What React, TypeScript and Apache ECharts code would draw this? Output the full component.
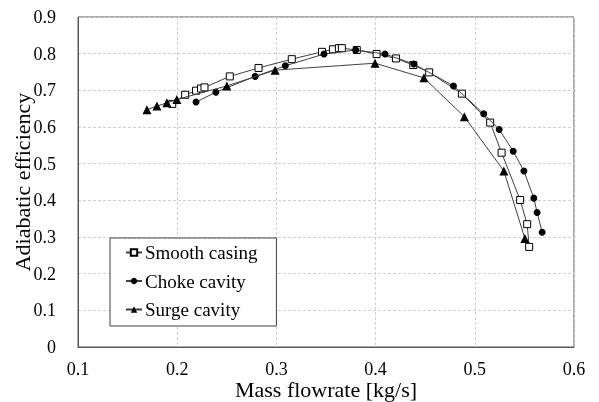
import React, { useEffect, useRef } from "react";
import * as echarts from "echarts";

const xTicks = [0.1, 0.2, 0.3, 0.4, 0.5, 0.6];
const yTicks = [0, 0.1, 0.2, 0.3, 0.4, 0.5, 0.6, 0.7, 0.8, 0.9];

const smoothX = [0.195, 0.208, 0.219, 0.224, 0.2275, 0.253, 0.282, 0.3155, 0.346, 0.357, 0.363, 0.366, 0.381, 0.401, 0.4205, 0.438, 0.454, 0.487, 0.5155, 0.527, 0.5457, 0.5528, 0.5548];
const smoothY = [0.663, 0.688, 0.699, 0.705, 0.708, 0.738, 0.761, 0.785, 0.805, 0.812, 0.815, 0.815, 0.81, 0.799, 0.787, 0.769, 0.749, 0.691, 0.612, 0.53, 0.401, 0.335, 0.273];

const chokeX = [0.219, 0.239, 0.2786, 0.309, 0.348, 0.38, 0.4095, 0.4385, 0.4785, 0.509, 0.5246, 0.5387, 0.5495, 0.5595, 0.5628, 0.5679];
const chokeY = [0.668, 0.695, 0.738, 0.767, 0.799, 0.81, 0.799, 0.772, 0.712, 0.636, 0.593, 0.534, 0.48, 0.406, 0.367, 0.313];

const surgeX = [0.1695, 0.1796, 0.1896, 0.1997, 0.25, 0.2987, 0.3994, 0.4487, 0.4895, 0.5293, 0.5505];
const surgeY = [0.647, 0.657, 0.666, 0.675, 0.712, 0.755, 0.774, 0.734, 0.628, 0.48, 0.296];

const seriesNames = ["Smooth casing", "Choke cavity", "Surge cavity"];

const zip = (xs: number[], ys: number[]) => xs.map((x, i) => [x, ys[i]]);

const FONT = "'Liberation Serif', 'Times New Roman', serif";

export default function App() {
  const ref = useRef<HTMLDivElement>(null);
  useEffect(() => {
    if (!ref.current) return;
    const chart = echarts.init(ref.current, undefined, { renderer: "svg" });
    const lineStyle = { color: "#404040", width: 1 };
    chart.setOption({
      animation: false,
      textStyle: { fontFamily: FONT },
      grid: {
        left: 78,
        right: 25,
        top: 17,
        bottom: 55,
        containLabel: false,
        outerBoundsMode: "none",
        show: true,
        borderColor: "#595959",
        borderWidth: 1,
        backgroundColor: "transparent",
      },
      legend: {
        orient: "vertical",
        left: 110,
        top: 238,
        padding: [5, 19, 7, 15],
        itemGap: 9.5,
        itemWidth: 16,
        itemHeight: 8,
        backgroundColor: "#fff",
        borderColor: "#404040",
        borderWidth: 1,
        borderRadius: 0,
        textStyle: { fontFamily: FONT, fontSize: 19, color: "#000", padding: [0, 0, 0, -2] },
        data: seriesNames,
      },
      xAxis: {
        type: "value",
        min: xTicks[0],
        max: xTicks[xTicks.length - 1],
        interval: 0.1,
        name: "Mass flowrate [kg/s]",
        nameLocation: "middle",
        nameGap: 31,
        nameMoveOverlap: false,
        nameTextStyle: { fontFamily: FONT, fontSize: 22, color: "#000" },
        axisLine: { show: true, lineStyle: { color: "#595959" } },
        axisTick: { show: false },
        axisLabel: { fontFamily: FONT, fontSize: 18, color: "#000", margin: 13, formatter: (v: number) => String(Math.round(v * 10) / 10) },
        splitLine: { show: true, lineStyle: { color: "#d0d0d0", type: [3, 2] } },
      },
      yAxis: {
        type: "value",
        min: yTicks[0],
        max: yTicks[yTicks.length - 1],
        interval: 0.1,
        name: "Adiabatic efficiency",
        nameLocation: "middle",
        nameGap: 45,
        nameMoveOverlap: false,
        nameTextStyle: { fontFamily: FONT, fontSize: 22, color: "#000" },
        axisLine: { show: true, lineStyle: { color: "#595959" } },
        axisTick: { show: false },
        axisLabel: { fontFamily: FONT, fontSize: 18, color: "#000", margin: 22, formatter: (v: number) => String(Math.round(v * 10) / 10) },
        splitLine: { show: true, lineStyle: { color: "#d0d0d0", type: [3, 2] } },
      },
      series: [
        {
          name: seriesNames[0],
          type: "line",
          data: zip(smoothX, smoothY),
          symbol: "rect",
          symbolSize: 7,
          lineStyle,
          itemStyle: { color: "#fff", borderColor: "#000", borderWidth: 1 },
          z: 3,
        },
        {
          name: seriesNames[1],
          type: "line",
          data: zip(chokeX, chokeY),
          symbol: "circle",
          symbolSize: 7,
          lineStyle,
          itemStyle: { color: "#000", borderColor: "#000", borderWidth: 0 },
          z: 4,
        },
        {
          name: seriesNames[2],
          type: "line",
          data: zip(surgeX, surgeY),
          symbol: "triangle",
          symbolSize: 9,
          lineStyle,
          itemStyle: { color: "#000", borderColor: "#000", borderWidth: 0 },
          z: 5,
        },
      ],
    });
    return () => chart.dispose();
  }, []);
  return <div ref={ref} style={{ position: "fixed", left: 0, top: 0, width: 599, height: 402 }} />;
}
